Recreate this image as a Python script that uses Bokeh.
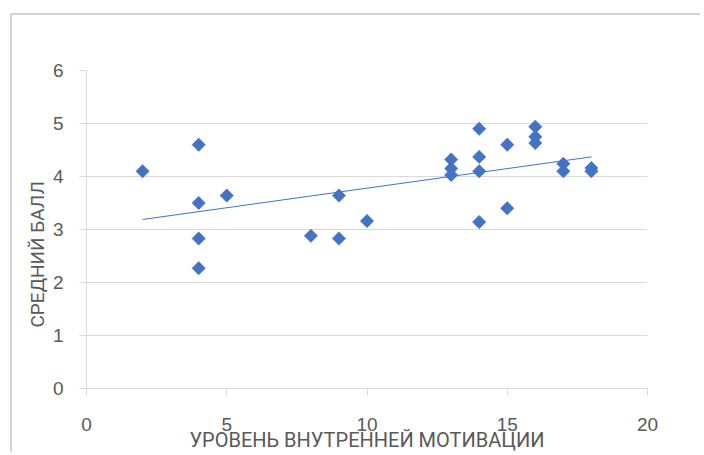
import numpy as np
from bokeh.plotting import figure
from bokeh.models import Range1d, FixedTicker, ColumnDataSource, Title
from bokeh.embed import file_html
from bokeh.resources import INLINE

# data
motivation = [2, 4, 4, 4, 4, 5, 8, 9, 9, 10, 13, 13, 13, 14, 14, 14, 14, 15, 15, 16, 16, 16, 17, 17, 18, 18]
avg_score = [4.1, 4.6, 3.5, 2.83, 2.27, 3.64, 2.88, 3.64, 2.83, 3.16, 4.32, 4.15, 4.03,
             4.9, 4.37, 4.1, 3.14, 4.6, 3.4, 4.94, 4.75, 4.63, 4.24, 4.1, 4.16, 4.1]
x_ticks = [0, 5, 10, 15, 20]
y_ticks = [0, 1, 2, 3, 4, 5, 6]
x_title = "УРОВЕНЬ ВНУТРЕННЕЙ МОТИВАЦИИ"
y_title = "СРЕДНИЙ БАЛЛ"

BLUE = "#4472C4"
GRID = "#d9d9d9"
TEXT = "#595959"

p = figure(width=690, height=439, output_backend="svg", toolbar_location=None,
           x_range=Range1d(0, 20), y_range=Range1d(0, 6),
           min_border_left=74, min_border_right=55, min_border_top=55, min_border_bottom=66)
p.outline_line_color = None
p.background_fill_color = "white"
p.border_fill_color = "white"
# outer chart border (left and top edges visible in the reference)
p.styles = {"margin-left": "12px", "margin-top": "15px", "vertical-align": "top",
            "box-shadow": "-2px -2px 0px 0px #d4d4d4"}

src = ColumnDataSource(dict(x=motivation, y=avg_score))
p.scatter("x", "y", source=src, marker="square", angle=np.pi / 4, size=9.5,
          fill_color=BLUE, line_color=BLUE, line_width=0.5)

# linear trend line computed from the data
xs = np.array(motivation, dtype=float)
ys = np.array(avg_score, dtype=float)
k, b = np.polyfit(xs, ys, 1)
x0, x1 = xs.min(), xs.max()
p.line([x0, x1], [k * x0 + b, k * x1 + b], line_color=BLUE, line_width=1)

p.xgrid.grid_line_color = None
p.ygrid.grid_line_color = GRID
p.ygrid.grid_line_width = 1
p.ygrid.ticker = FixedTicker(ticks=y_ticks)

for ax in (p.xaxis[0], p.yaxis[0]):
    ax.axis_line_color = GRID
    ax.major_tick_line_color = GRID
    ax.major_tick_in = 0
    ax.major_tick_out = 7
    ax.minor_tick_line_color = None
    ax.major_label_text_color = TEXT
    ax.major_label_text_font = "Liberation Sans"
    ax.major_label_text_font_size = "19px"
    ax.axis_label_text_color = TEXT
    ax.axis_label_text_font = "Roboto"
    ax.axis_label_text_font_size = "20px"
    ax.axis_label_text_font_style = "normal"

p.xaxis[0].ticker = FixedTicker(ticks=x_ticks)
p.yaxis[0].ticker = FixedTicker(ticks=y_ticks)
p.xaxis[0].axis_label = x_title
p.xaxis[0].major_label_standoff = 22
p.yaxis[0].major_label_standoff = 16
p.xaxis[0].axis_label_standoff = -6

# y title placed as a side title, shifted up from the frame bottom like the reference
p.add_layout(Title(text=y_title, align="left", offset=61, standoff=1,
                   text_font="Roboto", text_font_size="19px",
                   text_font_style="normal", text_color=TEXT), "left")

open("out.html", "w").write(file_html(p, INLINE))
